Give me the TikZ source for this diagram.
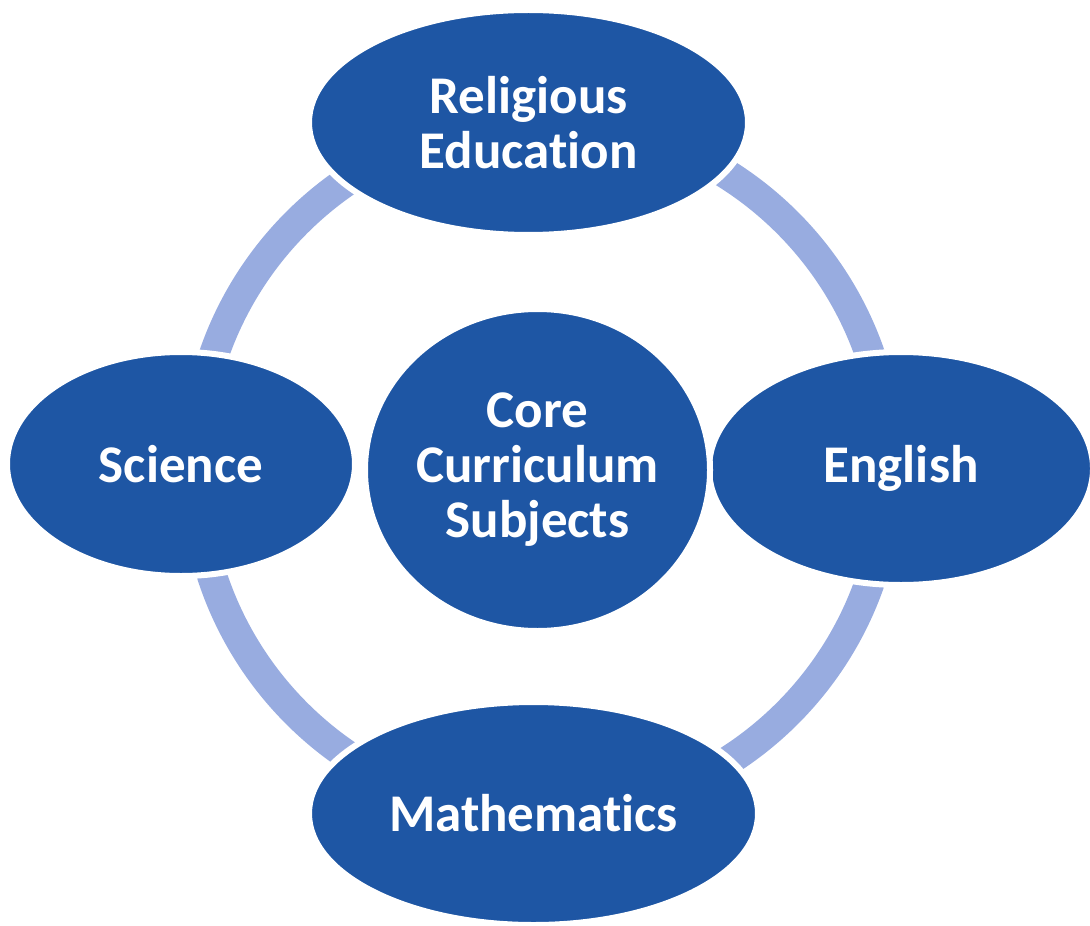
\documentclass[tikz,border=0pt]{standalone}
\usepackage{fontspec}
\setmainfont[Ligatures={NoCommon}]{Carlito}
\usetikzlibrary{shapes.geometric}
\definecolor{darkblue}{RGB}{30,86,164}
\definecolor{ringblue}{RGB}{152,172,224}
\tikzset{
  subject/.style={ellipse, fill=darkblue, draw=white, line width=3pt, inner sep=0pt,
    text=white, align=center, font=\fontsize{26.5pt}{27.5pt}\selectfont\bfseries},
  ringstyle/.style={draw=ringblue, line width=15pt}
}
\begin{document}
\begin{tikzpicture}[x=0.5pt,y=-0.5pt]
\useasboundingbox (0,0) rectangle (1090,925);
\coordinate (rc) at (542,468);
\draw[ringstyle] (rc) circle [radius=347];
\node[subject, minimum width=219.5pt, minimum height=112.5pt] (re) at (528.5,122.5) {Religious\\Education};
\node[subject, minimum width=174pt, minimum height=112pt] (sci) at (181,464) {Science};
\node[subject, minimum width=192pt, minimum height=116.5pt] (eng) at (901,468.5) {English};
\node[subject, minimum width=224.5pt, minimum height=111.5pt] (math) at (533.5,813.5) {Mathematics};
\node[subject, minimum width=172.5pt, minimum height=161pt] (core) at (537.5,470) {Core\\Curriculum\\Subjects};
\end{tikzpicture}
\end{document}
